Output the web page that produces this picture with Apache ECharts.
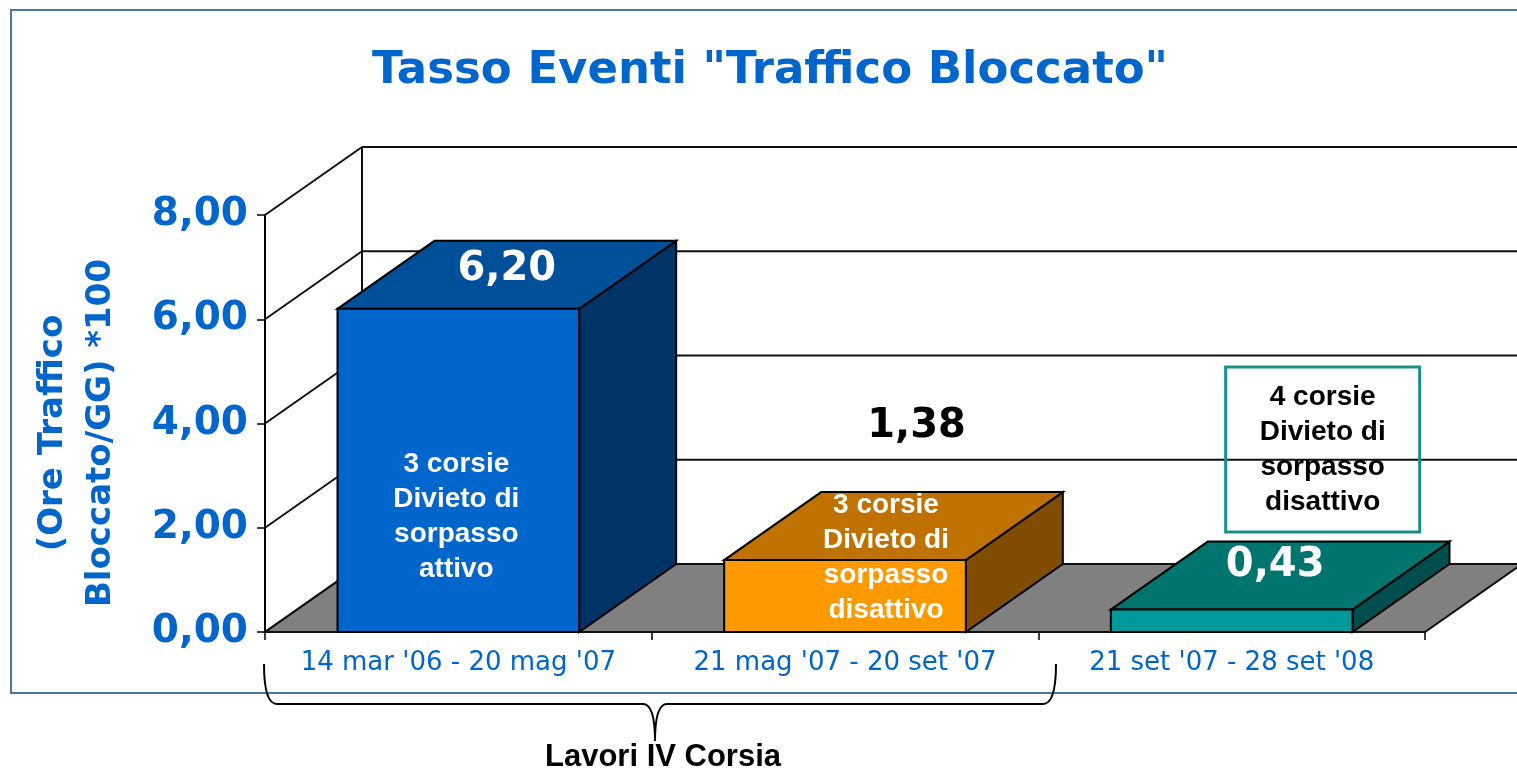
<!DOCTYPE html>
<html>
<head>
<meta charset="utf-8">
<title>Tasso Eventi "Traffico Bloccato"</title>
<script src="https://cdn.jsdelivr.net/npm/echarts@6/dist/echarts.min.js"></script>
<style>
  html, body { margin: 0; padding: 0; background: #fff; }
  #chart { width: 1517px; height: 773px; }
</style>
</head>
<body>
<div id="chart"></div>
<script>
// dati
const categories = ["14 mar '06 - 20 mag '07", "21 mag '07 - 20 set '07", "21 set '07 - 28 set '08"];
const values = [6.20, 1.38, 0.43];
const notes = [
    '3 corsie\nDivieto di\nsorpasso\nattivo',
    '3 corsie\nDivieto di\nsorpasso\ndisattivo',
    '4 corsie\nDivieto di\nsorpasso\ndisattivo'
];
const yTicks = [0, 2, 4, 6, 8];

// effetto 3D: spostamento della parete di fondo
const DX = 97, DY = -68;

// colori delle barre: fronte, sopra, lato
const faceColors = ['#0066CC', '#FF9900', '#009999'];
const topColors = ['#004F99', '#BF7200', '#007570'];
const sideColors = ['#003366', '#804C00', '#004D4D'];

// posizione etichette rispetto alla barra
const valueOffsets = [[0, -5], [23, -99], [-5, -10]];
const valueColors = ['#fff', '#000', '#fff'];
const noteOffsets = [[-2, -115], [41, -74], [91, -182]];
const noteColors = ['#fff', '#fff', '#000'];

const fmt = v => v.toFixed(2).replace('.', ',');

const chart = echarts.init(document.getElementById('chart'));

function renderWalls(params, api) {
    const cs = params.coordSys;
    const y = api.coord([0, api.value(1)])[1];
    const left = cs.x, right = cs.x + cs.width;
    const line = { stroke: '#111', lineWidth: 2 };
    const children = [];
    if (params.dataIndex === 0) {
        const yTop = api.coord([0, yTicks[yTicks.length - 1]])[1];
        children.push({
            type: 'polygon',
            shape: { points: [[left, y], [left + DX, y + DY], [right + DX, y + DY], [right, y]] },
            style: { fill: '#808080', stroke: '#111', lineWidth: 2 }
        });
        children.push({
            type: 'line',
            shape: { x1: left + DX, y1: y + DY, x2: left + DX, y2: yTop + DY },
            style: line
        });
    }
    children.push({
        type: 'line',
        shape: { x1: left, y1: y, x2: left + DX, y2: y + DY },
        style: line
    });
    children.push({
        type: 'line',
        shape: { x1: left + DX, y1: y + DY, x2: right + DX + 20, y2: y + DY },
        style: line
    });
    return { type: 'group', children };
}

function renderBars(params, api) {
    const i = params.dataIndex;
    const base = api.coord([i, 0]);
    const top = api.coord([i, api.value(1)]);
    const w = api.size([1, 0])[0] * 0.625;
    const x0 = base[0] - w / 2, x1 = base[0] + w / 2;
    const yb = base[1], yt = top[1];
    const edge = { stroke: '#000', lineWidth: 2 };
    const children = [
        {
            type: 'polygon',
            shape: { points: [[x1, yt], [x1 + DX, yt + DY], [x1 + DX, yb + DY], [x1, yb]] },
            style: Object.assign({ fill: sideColors[i] }, edge)
        },
        {
            type: 'polygon',
            shape: { points: [[x0, yt], [x1, yt], [x1 + DX, yt + DY], [x0 + DX, yt + DY]] },
            style: Object.assign({ fill: topColors[i] }, edge)
        },
        {
            type: 'rect',
            shape: { x: x0, y: yt, width: w, height: yb - yt },
            style: Object.assign({ fill: faceColors[i] }, edge)
        }
    ];
    const nx = base[0] + noteOffsets[i][0], ny = yb + noteOffsets[i][1];
    if (i === 2) {
        children.push({
            type: 'rect',
            shape: { x: nx - 97, y: ny - 83, width: 194, height: 165 },
            style: { fill: 'none', stroke: '#1A8F8A', lineWidth: 3 }
        });
    }
    children.push({
        type: 'text',
        style: {
            text: notes[i], x: nx, y: ny,
            fill: noteColors[i], align: 'center', verticalAlign: 'middle',
            fontFamily: 'Liberation Sans', fontWeight: 'bold', fontSize: 28, lineHeight: 35
        }
    });
    children.push({
        type: 'text',
        style: {
            text: fmt(api.value(1)),
            x: (x0 + x1) / 2 + DX / 2 + valueOffsets[i][0],
            y: yt + DY / 2 + valueOffsets[i][1],
            fill: valueColors[i], align: 'center', verticalAlign: 'middle',
            fontFamily: 'DejaVu Sans', fontWeight: 'bold', fontSize: 40
        }
    });
    return { type: 'group', children };
}

// parentesi graffa sotto le prime due categorie
const brace = { fill: 'none', stroke: '#000', lineWidth: 2 };

chart.setOption({
    animation: false,
    grid: { left: 265, right: 92, top: 215, bottom: 141 },
    xAxis: {
        type: 'category',
        data: categories,
        axisLine: { lineStyle: { color: '#000', width: 2 } },
        axisTick: { show: true, length: 8, lineStyle: { color: '#000', width: 1.5 } },
        axisLabel: {
            interval: 0, margin: 18, color: '#0066CC',
            fontFamily: 'DejaVu Sans', fontSize: 26
        }
    },
    yAxis: {
        type: 'value',
        min: 0, max: 8, interval: 2,
        splitLine: { show: false },
        axisLine: { show: true, lineStyle: { color: '#000', width: 2 } },
        axisTick: { show: true, length: 8, lineStyle: { color: '#000', width: 1.5 } },
        axisLabel: {
            margin: 17, color: '#0066CC', formatter: fmt,
            fontFamily: 'DejaVu Sans', fontWeight: 'bold', fontSize: 39
        }
    },
    series: [
        {
            type: 'custom',
            name: 'pareti',
            clip: false,
            silent: true,
            renderItem: renderWalls,
            data: yTicks.map(v => [0, v]),
            z: 1
        },
        {
            type: 'custom',
            name: 'Tasso',
            clip: false,
            renderItem: renderBars,
            data: values.map((v, i) => [i, v]),
            z: 3
        }
    ],
    graphic: [
        {
            type: 'rect',
            shape: { x: 11, y: 10, width: 1530, height: 683 },
            style: { fill: 'none', stroke: '#4A74AB', lineWidth: 2 },
            z: 0
        },
        {
            type: 'text',
            x: 770, y: 71,
            style: {
                text: 'Tasso Eventi "Traffico Bloccato"',
                fill: '#0066CC', align: 'center', verticalAlign: 'middle',
                fontFamily: 'DejaVu Sans', fontWeight: 'bold', fontSize: 45
            }
        },
        {
            type: 'text',
            x: 77, y: 433,
            rotation: Math.PI / 2,
            style: {
                text: '(Ore Traffico\nBloccato/GG) *100',
                fill: '#0066CC', align: 'center', verticalAlign: 'middle',
                fontFamily: 'DejaVu Sans', fontWeight: 'bold', fontSize: 34, lineHeight: 48
            }
        },
        { type: 'bezierCurve', shape: { x1: 264, y1: 664, cpx1: 264, cpy1: 704, x2: 277, y2: 704 }, style: brace },
        { type: 'line', shape: { x1: 277, y1: 704, x2: 643, y2: 704 }, style: brace },
        { type: 'bezierCurve', shape: { x1: 643, y1: 704, cpx1: 655, cpy1: 704, x2: 655, y2: 741 }, style: brace },
        { type: 'bezierCurve', shape: { x1: 655, y1: 741, cpx1: 655, cpy1: 704, x2: 667, y2: 704 }, style: brace },
        { type: 'line', shape: { x1: 667, y1: 704, x2: 1043, y2: 704 }, style: brace },
        { type: 'bezierCurve', shape: { x1: 1043, y1: 704, cpx1: 1056, cpy1: 704, x2: 1056, y2: 664 }, style: brace },
        {
            type: 'text',
            x: 663, y: 757,
            style: {
                text: 'Lavori IV Corsia',
                fill: '#000', align: 'center', verticalAlign: 'middle',
                fontFamily: 'Liberation Sans', fontWeight: 'bold', fontSize: 31
            }
        }
    ]
});

window.addEventListener('resize', () => {
    chart.resize();
});
</script>
</body>
</html>
